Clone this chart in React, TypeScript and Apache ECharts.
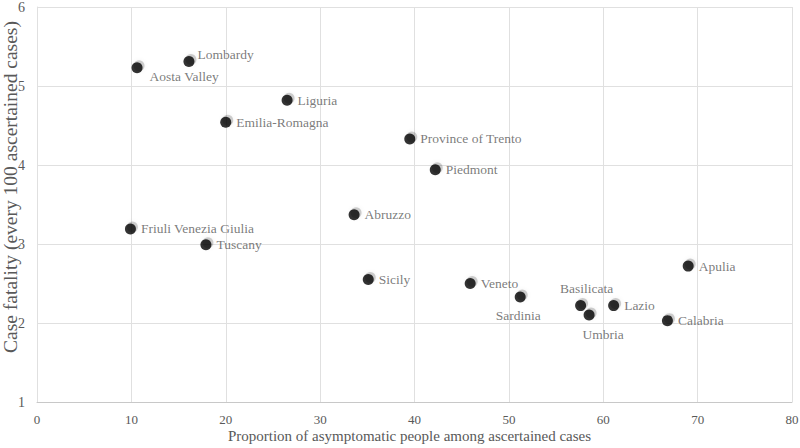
import React, { useEffect, useRef } from "react";
import * as echarts from "echarts";

const regions = [
  "Lombardy", "Aosta Valley", "Liguria", "Emilia-Romagna", "Province of Trento",
  "Piedmont", "Abruzzo", "Friuli Venezia Giulia", "Tuscany", "Sicily",
  "Veneto", "Sardinia", "Basilicata", "Umbria", "Lazio", "Apulia", "Calabria",
];
const asymptomatic = [16.1, 10.6, 26.5, 20.0, 39.5, 42.2, 33.6, 9.9, 17.9, 35.1, 45.9, 51.2, 57.6, 58.5, 61.1, 69.0, 66.8];
const fatality = [5.31, 5.23, 4.82, 4.54, 4.33, 3.94, 3.37, 3.19, 2.99, 2.55, 2.50, 2.33, 2.22, 2.10, 2.22, 2.72, 2.03];
const xTicks = [0, 10, 20, 30, 40, 50, 60, 70, 80];
const yTicks = [1, 2, 3, 4, 5, 6];
const xAxisTitle = "Proportion of asymptomatic people among ascertained cases";
const yAxisTitle = "Case fatality (every 100 ascertained cases)";

const labelOverrides: Record<string, any> = {
  "Aosta Valley": { position: "right", offset: [2, 9] },
  "Lombardy": { position: "right", offset: [-2, -7] },
  "Sardinia": { position: "bottom", offset: [-2, 1] },
  "Basilicata": { position: "top", offset: [6, 0] },
  "Umbria": { position: "bottom", offset: [14, 2] },
};

export default function App() {
  const ref = useRef<HTMLDivElement>(null);
  useEffect(() => {
    if (!ref.current) return;
    const chart = echarts.init(ref.current, undefined, { renderer: "svg" });
    const font = "Liberation Serif, Times New Roman, DejaVu Serif, serif";
    const textColor = "#595959";
    const points = regions.map((name, i) => [asymptomatic[i], fatality[i]]);
    const data = regions.map((name, i) => {
      const item: any = { name, value: points[i] };
      if (labelOverrides[name]) item.label = labelOverrides[name];
      return item;
    });
    chart.setOption({
      animation: false,
      backgroundColor: "#ffffff",
      textStyle: { fontFamily: font },
      grid: { left: 37, right: 8, top: 7, bottom: 46, containLabel: false, outerBoundsMode: "none" },
      graphic: [
        {
          type: "text",
          x: 10,
          y: 187,
          rotation: Math.PI / 2,
          style: {
            text: yAxisTitle,
            fill: textColor,
            font: "19.5px Liberation Serif, serif",
            align: "center",
            verticalAlign: "middle",
          },
        },
      ],
      xAxis: {
        type: "value",
        min: xTicks[0],
        max: xTicks[xTicks.length - 1],
        interval: 10,
        name: xAxisTitle,
        nameLocation: "middle",
        nameGap: 26,
        nameMoveOverlap: false,
        nameTextStyle: { color: textColor, fontFamily: font, fontSize: 15, padding: [0, 10, 0, 0] },
        axisLine: { show: true, lineStyle: { color: "#c8c8c8" } },
        axisTick: { show: false },
        axisLabel: { color: textColor, fontFamily: font, fontSize: 13, margin: 11 },
        splitLine: { show: true, lineStyle: { color: "#e0e0e0" } },
      },
      yAxis: {
        type: "value",
        min: yTicks[0],
        max: yTicks[yTicks.length - 1],
        interval: 1,
        axisLine: { show: true, lineStyle: { color: "#e0e0e0" } },
        axisTick: { show: false },
        axisLabel: { color: textColor, fontFamily: font, fontSize: 14, margin: 12 },
        splitLine: { show: true, lineStyle: { color: "#e0e0e0" } },
      },
      series: [
        {
          type: "scatter",
          symbol: "circle",
          symbolSize: 11,
          symbolOffset: [2, -2],
          silent: true,
          itemStyle: {
            color: "rgba(0,0,0,0.22)",
            shadowColor: "rgba(0,0,0,0.3)",
            shadowBlur: 4,
          },
          data: points,
        },
        {
          type: "scatter",
          symbol: "circle",
          symbolSize: 11,
          itemStyle: { color: "#000000" },
          label: {
            show: true,
            position: "right",
            formatter: "{b}",
            color: textColor,
            fontFamily: font,
            fontSize: 13.5,
            distance: 5,
          },
          data,
        },
      ],
    });
    return () => chart.dispose();
  }, []);
  return <div ref={ref} style={{ width: 800, height: 448, position: "absolute", left: 0, top: 0 }} />;
}
